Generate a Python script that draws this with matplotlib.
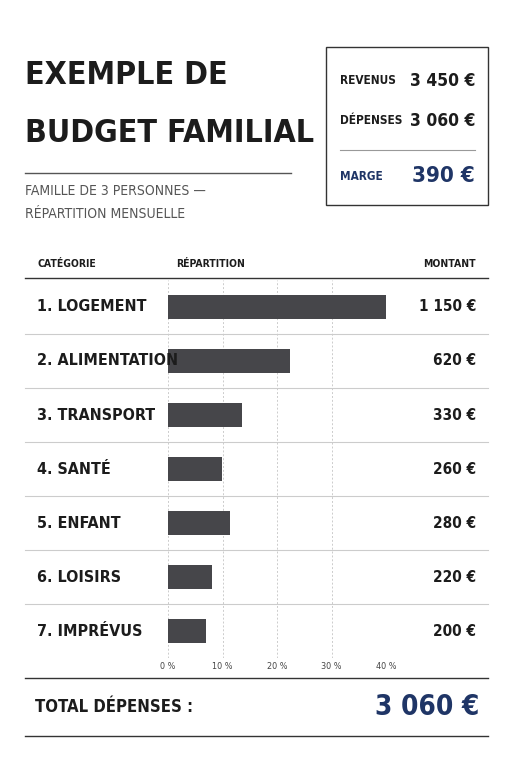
import matplotlib.pyplot as plt
from matplotlib.patches import Rectangle
from matplotlib.lines import Line2D

plt.rcParams["font.family"] = ["DejaVu Sans"]
plt.rcParams["font.stretch"] = "condensed"

categories = ["1. LOGEMENT", "2. ALIMENTATION", "3. TRANSPORT", "4. SANTÉ",
              "5. ENFANT", "6. LOISIRS", "7. IMPRÉVUS"]
shares = [40, 22.4, 13.6, 9.9, 11.4, 8.1, 7.0]
amounts = ["1 150 €", "620 €", "330 €", "260 €", "280 €", "220 €", "200 €"]
ticks = [0, 10, 20, 30, 40]
summary = [("REVENUS", "3 450 €"), ("DÉPENSES", "3 060 €"), ("MARGE", "390 €")]
total = "3 060 €"

W, H = 511, 768
DARK = "#1c1c1c"
NAVY = "#1f3566"
BAR = "#46464a"

fig = plt.figure(figsize=(W / 100, H / 100), dpi=100)
fig.patch.set_facecolor("white")


def px(x, y):
    return x / W, 1 - y / H


def text(x, y, s, **kw):
    fig.text(*px(x, y), s, stretch="condensed", **kw)


def hline(x0, x1, y, color="#cccccc", lw=0.8):
    fig.add_artist(Line2D([x0 / W, x1 / W], [1 - y / H, 1 - y / H],
                          transform=fig.transFigure, color=color, lw=lw))


# title
text(25, 76, "EXEMPLE DE", fontsize=23, weight="bold", color=DARK, va="center")
text(25, 133, "BUDGET FAMILIAL", fontsize=23, weight="bold", color=DARK, va="center")
hline(25, 291, 173, color="#555555", lw=1)
text(25, 191, "FAMILLE DE 3 PERSONNES —", fontsize=10, color="#555555", va="center")
text(25, 214, "RÉPARTITION MENSUELLE", fontsize=10, color="#555555", va="center")

# summary box
fig.add_artist(Rectangle(px(326, 205), 162 / W, 158 / H, transform=fig.transFigure,
                         fill=False, edgecolor="#333333", lw=1))
ys = [81, 121, 176]
for (lab, val), y in zip(summary, ys):
    c = NAVY if lab == "MARGE" else DARK
    text(340, y, lab, fontsize=8.5, weight="bold", color=c, va="center")
    text(475, y, val, fontsize=16 if lab == "MARGE" else 12.5, weight="bold",
         color=c, va="center", ha="right")
hline(340, 475, 150, color="#999999")

# header
text(37, 264, "CATÉGORIE", fontsize=7.5, weight="bold", color=DARK, va="center")
text(176, 264, "RÉPARTITION", fontsize=7.5, weight="bold", color=DARK, va="center")
text(476, 264, "MONTANT", fontsize=7.5, weight="bold", color=DARK, va="center", ha="right")
hline(25, 488, 278, color="#333333", lw=1)

# bars
ax = fig.add_axes([168 / W, 1 - 658 / H, 218 / W, 378 / H])
rows = list(range(len(categories)))
ax.barh(rows, shares, height=0.44, color=BAR)
ax.set_xlim(0, 40)
ax.set_ylim(6.5, -0.5)
ax.set_xticks(ticks)
ax.set_xticklabels([f"{t} %" for t in ticks], fontsize=6.5, color="#444444")
ax.tick_params(length=0, pad=3)
ax.set_yticks([])
for t in ticks:
    ax.axvline(t, color="#cccccc", lw=0.7, ls=(0, (2, 2)), zorder=0)
for s in ax.spines.values():
    s.set_visible(False)
ax.patch.set_alpha(0)

for i, (cat, amt) in enumerate(zip(categories, amounts)):
    y = 307 + 54 * i
    text(37, y, cat, fontsize=11.5, weight="bold", color=DARK, va="center")
    text(476, y, amt, fontsize=11, weight="bold", color=DARK, va="center", ha="right")
    if i < len(categories) - 1:
        hline(25, 488, y + 27)

# total
hline(25, 488, 678, color="#333333", lw=1)
text(35, 707, "TOTAL DÉPENSES :", fontsize=12, weight="bold", color=DARK, va="center")
text(479, 707, total, fontsize=20, weight="bold", color=NAVY, va="center", ha="right")
hline(25, 488, 736, color="#333333", lw=1)

fig.savefig("out.png", dpi=100)
